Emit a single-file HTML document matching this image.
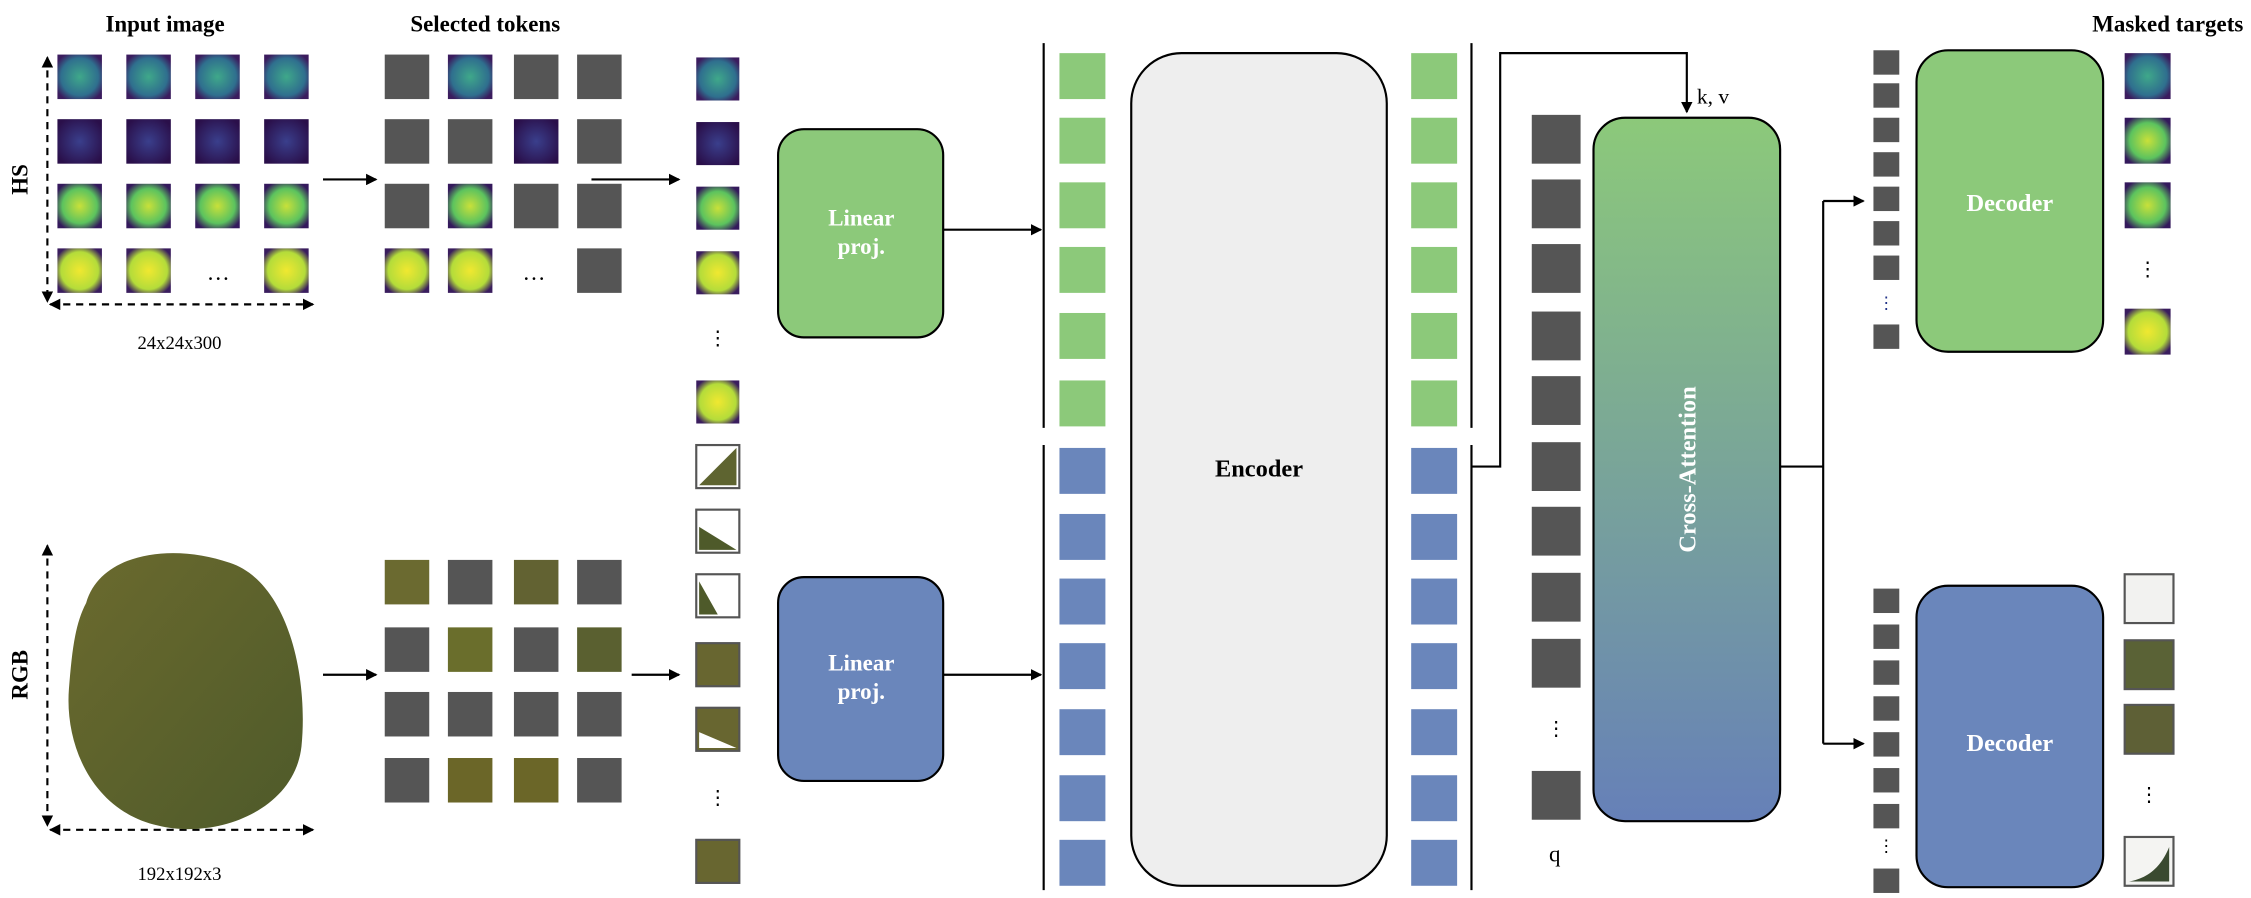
<!DOCTYPE html>
<html><head><meta charset="utf-8"><style>
html,body{margin:0;padding:0;background:#fff}
svg{display:block}
text{font-family:"Liberation Serif",serif}
</style></head><body>
<svg width="2251" height="898" viewBox="0 0 1568 625.5" xmlns="http://www.w3.org/2000/svg">
<defs>
<marker id="ah" markerWidth="8" markerHeight="8" refX="7" refY="4" orient="auto" markerUnits="userSpaceOnUse"><path d="M0,0 L8,4 L0,8 Z" fill="#000"/></marker>
<marker id="ahs" markerWidth="8" markerHeight="8" refX="7" refY="4" orient="auto-start-reverse" markerUnits="userSpaceOnUse"><path d="M0,0 L8,4 L0,8 Z" fill="#000"/></marker>
<radialGradient id="hsA" cx="50%" cy="50%" r="60%"><stop offset="0" stop-color="#3fa88a"/><stop offset="0.7" stop-color="#2f6f8e"/><stop offset="1" stop-color="#3b1c5e"/></radialGradient>
<radialGradient id="hsB" cx="50%" cy="50%" r="60%"><stop offset="0" stop-color="#3a3f8c"/><stop offset="1" stop-color="#2a0f4a"/></radialGradient>
<radialGradient id="hsC" cx="50%" cy="50%" r="60%"><stop offset="0" stop-color="#c8e03a"/><stop offset="0.65" stop-color="#5cc35e"/><stop offset="1" stop-color="#34195c"/></radialGradient>
<radialGradient id="hsD" cx="50%" cy="50%" r="60%"><stop offset="0" stop-color="#f0e830"/><stop offset="0.7" stop-color="#b4dc3a"/><stop offset="1" stop-color="#3a1d5e"/></radialGradient>
<linearGradient id="rgb" x1="0" y1="0" x2="1" y2="1"><stop offset="0" stop-color="#6b6a2e"/><stop offset="1" stop-color="#4e5a2a"/></linearGradient>
<linearGradient id="ca" x1="0" y1="0" x2="0" y2="1"><stop offset="0" stop-color="#8cc97a"/><stop offset="1" stop-color="#6680b8"/></linearGradient>
</defs>

<!-- titles -->
<g font-weight="bold" font-size="16" text-anchor="middle">
<text x="115" y="22">Input image</text>
<text x="338" y="22">Selected  tokens</text>
<text x="1510" y="22">Masked  targets</text>
<text transform="translate(19,125) rotate(-90)">HS</text>
<text transform="translate(19,470) rotate(-90)">RGB</text>
</g>
<text x="125" y="243" font-size="13" text-anchor="middle">24x24x300</text>
<text x="125" y="613" font-size="13" text-anchor="middle">192x192x3</text>

<!-- dashed axes -->
<g stroke="#000" stroke-width="1.5" stroke-dasharray="5,4" fill="none">
<line x1="33" y1="40" x2="33" y2="210" marker-start="url(#ahs)" marker-end="url(#ah)"/>
<line x1="35" y1="212" x2="218" y2="212" marker-start="url(#ahs)" marker-end="url(#ah)"/>
<line x1="33" y1="380" x2="33" y2="575" marker-start="url(#ahs)" marker-end="url(#ah)"/>
<line x1="35" y1="578" x2="218" y2="578" marker-start="url(#ahs)" marker-end="url(#ah)"/>
</g>

<!-- HS input grid -->
<g>
<rect x="40" y="38" width="31" height="31" fill="url(#hsA)"/><rect x="88" y="38" width="31" height="31" fill="url(#hsA)"/><rect x="136" y="38" width="31" height="31" fill="url(#hsA)"/><rect x="184" y="38" width="31" height="31" fill="url(#hsA)"/>
<rect x="40" y="83" width="31" height="31" fill="url(#hsB)"/><rect x="88" y="83" width="31" height="31" fill="url(#hsB)"/><rect x="136" y="83" width="31" height="31" fill="url(#hsB)"/><rect x="184" y="83" width="31" height="31" fill="url(#hsB)"/>
<rect x="40" y="128" width="31" height="31" fill="url(#hsC)"/><rect x="88" y="128" width="31" height="31" fill="url(#hsC)"/><rect x="136" y="128" width="31" height="31" fill="url(#hsC)"/><rect x="184" y="128" width="31" height="31" fill="url(#hsC)"/>
<rect x="40" y="173" width="31" height="31" fill="url(#hsD)"/><rect x="88" y="173" width="31" height="31" fill="url(#hsD)"/><rect x="184" y="173" width="31" height="31" fill="url(#hsD)"/>
<text x="152" y="195" font-size="16" text-anchor="middle">…</text>
</g>
<line x1="225" y1="125" x2="262" y2="125" stroke="#000" stroke-width="1.5" marker-end="url(#ah)"/>

<!-- HS selected -->
<g fill="#555">
<rect x="268" y="38" width="31" height="31"/><rect x="312" y="38" width="31" height="31" fill="url(#hsA)"/><rect x="358" y="38" width="31" height="31"/><rect x="402" y="38" width="31" height="31"/>
<rect x="268" y="83" width="31" height="31"/><rect x="312" y="83" width="31" height="31"/><rect x="358" y="83" width="31" height="31" fill="url(#hsB)"/><rect x="402" y="83" width="31" height="31"/>
<rect x="268" y="128" width="31" height="31"/><rect x="312" y="128" width="31" height="31" fill="url(#hsC)"/><rect x="358" y="128" width="31" height="31"/><rect x="402" y="128" width="31" height="31"/>
<rect x="268" y="173" width="31" height="31" fill="url(#hsD)"/><rect x="312" y="173" width="31" height="31" fill="url(#hsD)"/><rect x="402" y="173" width="31" height="31"/>
</g>
<text x="372" y="195" font-size="16" text-anchor="middle">…</text>
<line x1="412" y1="125" x2="473" y2="125" stroke="#000" stroke-width="1.5" marker-end="url(#ah)"/>

<!-- RGB input -->
<path d="M60,420 C70,385 120,378 160,392 C200,405 215,470 210,520 C205,565 150,585 110,575 C65,565 45,520 48,480 C50,455 52,435 60,420 Z" fill="url(#rgb)"/>
<line x1="225" y1="470" x2="262" y2="470" stroke="#000" stroke-width="1.5" marker-end="url(#ah)"/>
<g fill="#555">
<rect x="268" y="390" width="31" height="31" fill="#6b6a30"/><rect x="312" y="390" width="31" height="31"/><rect x="358" y="390" width="31" height="31" fill="#626232"/><rect x="402" y="390" width="31" height="31"/>
<rect x="268" y="437" width="31" height="31"/><rect x="312" y="437" width="31" height="31" fill="#6a6e2c"/><rect x="358" y="437" width="31" height="31"/><rect x="402" y="437" width="31" height="31" fill="#5a6030"/>
<rect x="268" y="482" width="31" height="31"/><rect x="312" y="482" width="31" height="31"/><rect x="358" y="482" width="31" height="31"/><rect x="402" y="482" width="31" height="31"/>
<rect x="268" y="528" width="31" height="31"/><rect x="312" y="528" width="31" height="31" fill="#6b6628"/><rect x="358" y="528" width="31" height="31" fill="#6b6628"/><rect x="402" y="528" width="31" height="31"/>
</g>
<line x1="440" y1="470" x2="473" y2="470" stroke="#000" stroke-width="1.5" marker-end="url(#ah)"/>

<!-- token column -->
<g>
<rect x="485" y="40" width="30" height="30" fill="url(#hsA)"/>
<rect x="485" y="85" width="30" height="30" fill="url(#hsB)"/>
<rect x="485" y="130" width="30" height="30" fill="url(#hsC)"/>
<rect x="485" y="175" width="30" height="30" fill="url(#hsD)"/>
<text x="500" y="240" font-size="14" text-anchor="middle">⋮</text>
<rect x="485" y="265" width="30" height="30" fill="url(#hsD)"/>
<g stroke="#555" stroke-width="1.5">
<rect x="485" y="310" width="30" height="30" fill="#fff"/><path d="M487,338 L513,312 L513,338 Z" fill="#5e6430" stroke="none"/>
<rect x="485" y="355" width="30" height="30" fill="#fff"/><path d="M487,367 L513,383 L487,383 Z" fill="#4e5a2a" stroke="none"/>
<rect x="485" y="400" width="30" height="30" fill="#fff"/><path d="M487,405 L500,428 L487,428 Z" fill="#4e5a2a" stroke="none"/>
<rect x="485" y="448" width="30" height="30" fill="#686630"/>
<rect x="485" y="493" width="30" height="30" fill="#686630"/><path d="M487,510 L513,521 L487,521 Z" fill="#fff" stroke="none"/>
<rect x="485" y="585" width="30" height="30" fill="#686630"/>
</g>
<text x="500" y="560" font-size="14" text-anchor="middle">⋮</text>
</g>

<!-- linear proj -->
<rect x="542" y="90" width="115" height="145" rx="18" fill="#8cc97a" stroke="#000" stroke-width="1.5"/>
<rect x="542" y="402" width="115" height="142" rx="18" fill="#6a86bb" stroke="#000" stroke-width="1.5"/>
<g fill="#fff" font-weight="bold" font-size="16" text-anchor="middle">
<text x="600" y="157">Linear</text><text x="600" y="177">proj.</text>
<text x="600" y="467">Linear</text><text x="600" y="487">proj.</text>
</g>
<line x1="657" y1="160" x2="725" y2="160" stroke="#000" stroke-width="1.5" marker-end="url(#ah)"/>
<line x1="657" y1="470" x2="725" y2="470" stroke="#000" stroke-width="1.5" marker-end="url(#ah)"/>

<g stroke="#000" stroke-width="1.5">
<line x1="727" y1="30" x2="727" y2="298"/><line x1="727" y1="310" x2="727" y2="620"/>
<line x1="1025" y1="30" x2="1025" y2="298"/><line x1="1025" y1="310" x2="1025" y2="620"/>
</g>

<!-- encoder columns -->
<g fill="#8cc97a">
<rect x="738" y="37" width="32" height="32"/><rect x="738" y="82" width="32" height="32"/><rect x="738" y="127" width="32" height="32"/><rect x="738" y="172" width="32" height="32"/><rect x="738" y="218" width="32" height="32"/><rect x="738" y="265" width="32" height="32"/>
<rect x="983" y="37" width="32" height="32"/><rect x="983" y="82" width="32" height="32"/><rect x="983" y="127" width="32" height="32"/><rect x="983" y="172" width="32" height="32"/><rect x="983" y="218" width="32" height="32"/><rect x="983" y="265" width="32" height="32"/>
</g>
<g fill="#6a86bb">
<rect x="738" y="312" width="32" height="32"/><rect x="738" y="358" width="32" height="32"/><rect x="738" y="403" width="32" height="32"/><rect x="738" y="448" width="32" height="32"/><rect x="738" y="494" width="32" height="32"/><rect x="738" y="540" width="32" height="32"/><rect x="738" y="585" width="32" height="32"/>
<rect x="983" y="312" width="32" height="32"/><rect x="983" y="358" width="32" height="32"/><rect x="983" y="403" width="32" height="32"/><rect x="983" y="448" width="32" height="32"/><rect x="983" y="494" width="32" height="32"/><rect x="983" y="540" width="32" height="32"/><rect x="983" y="585" width="32" height="32"/>
</g>
<rect x="788" y="37" width="178" height="580" rx="35" fill="#eeeeee" stroke="#000" stroke-width="1.5"/>
<text x="877" y="332" font-weight="bold" font-size="17" text-anchor="middle">Encoder</text>

<!-- kv connector -->
<polyline points="1025,325 1045,325 1045,37 1175,37 1175,78" fill="none" stroke="#000" stroke-width="1.5" marker-end="url(#ah)"/>
<text x="1182" y="72" font-size="15">k, v</text>

<!-- q column -->
<g fill="#555">
<rect x="1067" y="80" width="34" height="34"/><rect x="1067" y="125" width="34" height="34"/><rect x="1067" y="170" width="34" height="34"/><rect x="1067" y="217" width="34" height="34"/><rect x="1067" y="262" width="34" height="34"/><rect x="1067" y="308" width="34" height="34"/><rect x="1067" y="353" width="34" height="34"/><rect x="1067" y="399" width="34" height="34"/><rect x="1067" y="445" width="34" height="34"/><rect x="1067" y="537" width="34" height="34"/>
</g>
<text x="1084" y="512" font-size="14" text-anchor="middle">⋮</text>
<text x="1083" y="600" font-size="16" text-anchor="middle">q</text>

<!-- cross attention -->
<rect x="1110" y="82" width="130" height="490" rx="22" fill="url(#ca)" stroke="#000" stroke-width="1.5"/>
<text transform="translate(1181,327) rotate(-90)" fill="#fff" font-weight="bold" font-size="17" text-anchor="middle">Cross-Attention</text>

<polyline points="1240,325 1270,325" fill="none" stroke="#000" stroke-width="1.5"/>
<line x1="1270" y1="140" x2="1270" y2="518" stroke="#000" stroke-width="1.5"/>
<line x1="1270" y1="140" x2="1298" y2="140" stroke="#000" stroke-width="1.5" marker-end="url(#ah)"/>
<line x1="1270" y1="518" x2="1298" y2="518" stroke="#000" stroke-width="1.5" marker-end="url(#ah)"/>

<!-- decoder small tokens -->
<g fill="#555">
<rect x="1305" y="35" width="18" height="17"/><rect x="1305" y="58" width="18" height="17"/><rect x="1305" y="82" width="18" height="17"/><rect x="1305" y="106" width="18" height="17"/><rect x="1305" y="130" width="18" height="17"/><rect x="1305" y="154" width="18" height="17"/><rect x="1305" y="178" width="18" height="17"/><rect x="1305" y="226" width="18" height="17"/>
<rect x="1305" y="410" width="18" height="17"/><rect x="1305" y="435" width="18" height="17"/><rect x="1305" y="460" width="18" height="17"/><rect x="1305" y="485" width="18" height="17"/><rect x="1305" y="510" width="18" height="17"/><rect x="1305" y="535" width="18" height="17"/><rect x="1305" y="560" width="18" height="17"/><rect x="1305" y="605" width="18" height="17"/>
</g>
<text x="1314" y="215" font-size="12" fill="#223388" text-anchor="middle">⋮</text>
<text x="1314" y="593" font-size="12" text-anchor="middle">⋮</text>

<!-- decoders -->
<rect x="1335" y="35" width="130" height="210" rx="22" fill="#8cc97a" stroke="#000" stroke-width="1.5"/>
<rect x="1335" y="408" width="130" height="210" rx="22" fill="#6a86bb" stroke="#000" stroke-width="1.5"/>
<g fill="#fff" font-weight="bold" font-size="17" text-anchor="middle">
<text x="1400" y="147">Decoder</text><text x="1400" y="523">Decoder</text>
</g>

<!-- targets -->
<rect x="1480" y="37" width="32" height="32" fill="url(#hsA)"/>
<rect x="1480" y="82" width="32" height="32" fill="url(#hsC)"/>
<rect x="1480" y="127" width="32" height="32" fill="url(#hsC)"/>
<text x="1496" y="192" font-size="14" text-anchor="middle">⋮</text>
<rect x="1480" y="215" width="32" height="32" fill="url(#hsD)"/>
<g stroke="#555" stroke-width="1.5">
<rect x="1480" y="400" width="34" height="34" fill="#f2f2f0"/>
<rect x="1480" y="446" width="34" height="34" fill="#5a6236"/>
<rect x="1480" y="491" width="34" height="34" fill="#5e6036"/>
<rect x="1480" y="583" width="34" height="34" fill="#f4f4f2"/><path d="M1483,614 C1495,612 1505,605 1511,590 L1511,614 Z" fill="#3a4a30" stroke="none"/>
</g>
<text x="1497" y="558" font-size="14" text-anchor="middle">⋮</text>
</svg>
</body></html>
